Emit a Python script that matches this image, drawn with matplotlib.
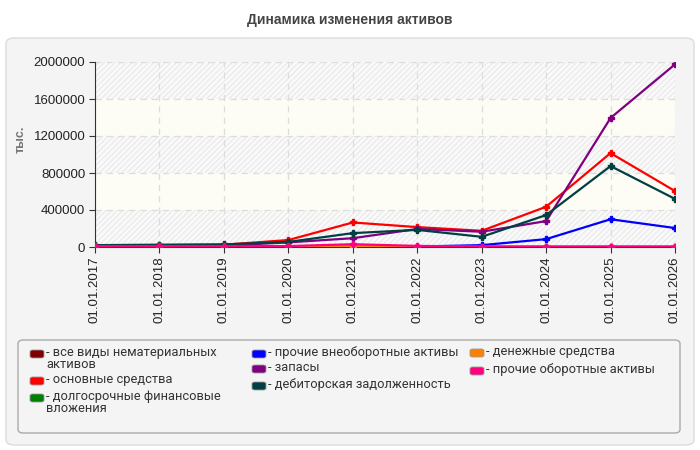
import matplotlib
matplotlib.use("Agg")
import matplotlib.pyplot as plt
from matplotlib.patches import FancyBboxPatch
import numpy as np

# data (тыс.)
dates = ["01.01.2017", "01.01.2018", "01.01.2019", "01.01.2020", "01.01.2021",
         "01.01.2022", "01.01.2023", "01.01.2024", "01.01.2025", "01.01.2026"]
intangible = [0, 0, 0, 0, 0, 0, 0, 0, 0, 0]
fixed_assets = [15000, 20000, 25000, 75000, 265000, 215000, 175000, 435000, 1015000, 605000]
long_invest = [0, 0, 0, 0, 0, 0, 1000, 1000, 1000, 1000]
other_noncur = [0, 0, 0, 0, 2000, 5000, 20000, 85000, 300000, 205000]
inventory = [5000, 8000, 15000, 50000, 95000, 195000, 165000, 280000, 1395000, 1975000]
receivables = [20000, 25000, 28000, 55000, 150000, 185000, 110000, 345000, 875000, 520000]
cash = [5000, 3000, 2000, 5000, 10000, 5000, 3000, 2000, 2000, 2000]
other_cur = [10000, 10000, 10000, 10000, 30000, 12000, 5000, 5000, 5000, 5000]

series = [
    ("- все виды нематериальных\nактивов", intangible, "#800000"),
    ("- основные средства", fixed_assets, "#ff0000"),
    ("- долгосрочные финансовые\nвложения", long_invest, "#008000"),
    ("- прочие внеоборотные активы", other_noncur, "#0000ff"),
    ("- запасы", inventory, "#800080"),
    ("- дебиторская задолженность", receivables, "#004040"),
    ("- денежные средства", cash, "#ff8000"),
    ("- прочие оборотные активы", other_cur, "#ff0080"),
]

plt.rcParams['font.family'] = ['Liberation Sans', 'DejaVu Sans']

W, H = 700, 450
fig = plt.figure(figsize=(7, 4.5), dpi=100)
fig.patch.set_facecolor("white")

def fx(px):
    return px / W

def fy(py):
    return 1 - py / H

panel = FancyBboxPatch((fx(6), fy(445)), fx(688), 407 / H,
                       boxstyle="round,pad=0,rounding_size=0.012",
                       transform=fig.transFigure, facecolor="#f4f4f4",
                       edgecolor="#dcdcdc", linewidth=1, zorder=-5)
fig.patches.append(panel)

fig.text(0.5, fy(20), "Динамика изменения активов", ha="center", va="center",
         fontsize=10, fontweight="bold", color="#444444")

ax = fig.add_axes([fx(95), fy(247), fx(580), 185 / H])
ax.set_zorder(2)
ax.set_facecolor("white")

x = np.arange(len(dates))
for i, lo in enumerate(range(0, 2000000, 400000)):
    if i % 2 == 0:
        ax.axhspan(lo, lo + 400000, facecolor="#fafafa", edgecolor="#ebebeb",
                   hatch="//////", linewidth=0, zorder=0)
    else:
        ax.axhspan(lo, lo + 400000, facecolor="#fdfdf6", linewidth=0, zorder=0)

for label, vals, color in series:
    ax.plot(x, vals, color=color, linewidth=1.6, marker="P", markersize=4, zorder=3)

ax.set_xlim(0, len(dates) - 1)
ax.set_ylim(0, 2000000)
ax.set_yticks(range(0, 2000001, 400000))
ax.set_yticklabels([str(v) for v in range(0, 2000001, 400000)], fontsize=9.5, color="#222222")
ax.set_xticks(x)
ax.set_xticklabels(dates, rotation=90, fontsize=9.5, color="#222222")
ax.grid(True, color="#dddddd", linestyle=(0, (5, 4)), linewidth=0.9)
ax.set_axisbelow(True)
for s in ["top", "right"]:
    ax.spines[s].set_visible(False)
for s in ["left", "bottom"]:
    ax.spines[s].set_color("#333333")
ax.tick_params(length=4, color="#333333", pad=3)
ax.set_ylabel("тыс.", fontsize=9, color="#777777", fontweight="bold")
ax.yaxis.set_label_coords(fx(27 - 95) / fx(580), 0.58)

legbox = FancyBboxPatch((fx(18), fy(433)), fx(662), 93 / H,
                        boxstyle="round,pad=0,rounding_size=0.008",
                        transform=fig.transFigure, facecolor="#f4f4f4",
                        edgecolor="#aaaaaa", linewidth=1, zorder=-4)
fig.patches.append(legbox)

# legend laid out by hand, column by column
col_x = [30, 252, 470]
col_rows = [[0, 1, 2], [3, 4, 5], [6, 7]]
col_y = [[354, 381, 398], [354, 369, 386], [353, 371]]
for cx, rows, ys in zip(col_x, col_rows, col_y):
    for idx, yy in zip(rows, ys):
        label, vals, color = series[idx]
        sw = FancyBboxPatch((fx(cx), fy(yy + 4)), fx(14), 8 / H,
                            boxstyle="round,pad=0,rounding_size=0.004",
                            transform=fig.transFigure, facecolor=color,
                            edgecolor="#999999", linewidth=0.6, zorder=3)
        fig.patches.append(sw)
        fig.text(fx(cx + 16), fy(yy - 8), label, ha="left", va="top",
                 family=["Roboto", "DejaVu Sans"], fontsize=9.3,
                 color="#333333", linespacing=0.95)

fig.savefig("out.png", dpi=100)
